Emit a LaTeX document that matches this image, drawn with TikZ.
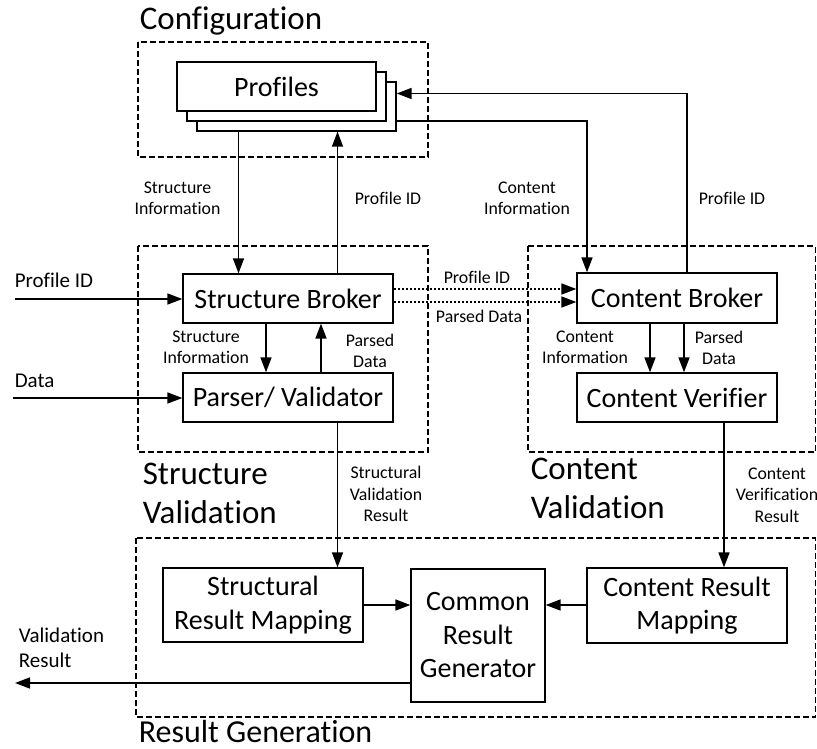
\documentclass[tikz,border=0pt]{standalone}
\usepackage{fontspec}
\setmainfont{Carlito}[Ligatures={NoCommon}]
\usetikzlibrary{arrows.meta,calc}
\begin{document}
\begin{tikzpicture}[x=1pt,y=-1pt,
  line width=1.6pt,
  arr/.style={-{Triangle[length=15pt,width=11pt]}},
  dotline/.style={arr,dash pattern=on 2pt off 2pt},
  group/.style={draw,line width=1.3pt,dash pattern=on 6pt off 3pt},
  blk/.style={draw,fill=white,line width=1.3pt,inner sep=0pt,align=center,
     font=\fontsize{28}{33.5}\selectfont},
  big/.style={inner sep=0pt,align=left,font=\fontsize{33}{38.5}\selectfont},
  lbl/.style={inner sep=0pt,align=center,font=\fontsize{17.8}{21.3}\selectfont},
  inlbl/.style={inner sep=0pt,align=left,font=\fontsize{21}{25}\selectfont}]
\useasboundingbox (0,0) rectangle (817,749);

% group boxes
\draw[group] (138,42) rectangle (428,157);
\draw[group] (138,246) rectangle (428,452);
\draw[group] (528,246) rectangle (815.5,452);
\draw[group] (136,538) rectangle (815.5,717);

% group titles
\node[big,anchor=base west] (tconf) at (139,30) {Configuration};
\node[big,anchor=base west] (tsv) at (142,523) {Structure\\Validation};
\node[big,anchor=base west] (tcv) at (530,518) {Content\\Validation};
\node[big,anchor=base west,font=\fontsize{32}{38.5}\selectfont] (trg) at (138,742) {Result Generation};

% profiles stack
\node[blk,minimum width=199pt,minimum height=49pt] (prof3) at (296.5,106.5) {};
\node[blk,minimum width=199pt,minimum height=49pt] (prof2) at (286.5,96.5) {};
\node[blk,minimum width=199pt,minimum height=49pt] (prof1) at (276.5,86.5) {Profiles};

% blocks
\node[blk,minimum width=210pt,minimum height=49pt] (sb) at (288,298.5) {Structure Broker};
\node[blk,minimum width=210pt,minimum height=49pt] (pv) at (288,397.5) {Parser/ Validator};
\node[blk,minimum width=200pt,minimum height=50pt] (cb) at (677,298) {Content Broker};
\node[blk,minimum width=200pt,minimum height=49pt] (cv) at (677,397.5) {Content Verifier};
\node[blk,minimum width=200pt,minimum height=74pt] (srm) at (263,605) {Structural\\Result Mapping};
\node[blk,minimum width=134pt,minimum height=133pt] (crg) at (478,635.5) {Common\\Result\\Generator};
\node[blk,minimum width=200pt,minimum height=75pt] (crm) at (687,605.5) {Content Result\\Mapping};

% helper coordinates
\coordinate (xsi) at (238.5,0);
\coordinate (xpid) at (337.5,0);
\coordinate (xci) at (587,0);
\coordinate (xcpid) at (687,0);
\coordinate (ytop) at (0,93.5);
\coordinate (ycin) at (0,121);
\coordinate (xsd) at (266,0);
\coordinate (xsu) at (321,0);
\coordinate (xcd1) at (650,0);
\coordinate (xcd2) at (684,0);
\coordinate (xcvo) at (724,0);
\coordinate (ydot1) at (0,289);
\coordinate (ydot2) at (0,302);
\coordinate (ymap) at (0,605);
\coordinate (yout) at (0,683);
\coordinate (inpid) at (15,299);
\coordinate (indata) at (13,398);
\coordinate (outres) at (15,683);

% connectors
\draw[arr] (xsi |- prof3.south) -- (xsi |- sb.north);
\draw[arr] (xpid |- sb.north) -- (xpid |- prof3.south);
\draw[arr] (xcpid |- cb.north) |- (prof3.east |- ytop);
\draw[arr] (prof3.east |- ycin) -| (xci |- cb.north);
\draw[arr] (inpid) -- (sb.west |- inpid);
\draw[arr] (indata) -- (pv.west |- indata);
\draw[arr] (xsd |- sb.south) -- (xsd |- pv.north);
\draw[arr] (xsu |- pv.north) -- (xsu |- sb.south);
\draw[dotline] (sb.east |- ydot1) -- (cb.west |- ydot1);
\draw[dotline] (sb.east |- ydot2) -- (cb.west |- ydot2);
\draw[arr] (xcd1 |- cb.south) -- (xcd1 |- cv.north);
\draw[arr] (xcd2 |- cb.south) -- (xcd2 |- cv.north);
\draw[arr] (xpid |- pv.south) -- (xpid |- srm.north);
\draw[arr] (xcvo |- cv.south) -- (xcvo |- crm.north);
\draw[arr] (srm.east |- ymap) -- (crg.west |- ymap);
\draw[arr] (crm.west |- ymap) -- (crg.east |- ymap);
\draw[arr] (crg.west |- yout) -- (outres);

% connector labels
\node[lbl] (l1) at (177.5,198) {Structure\\Information};
\node[lbl] (l2) at (388,198) {Profile ID};
\node[lbl] (l3) at (527,198) {Content\\Information};
\node[lbl] (l4) at (732,198) {Profile ID};
\node[lbl] (l5) at (206,347) {Structure\\Information};
\node[lbl] (l6) at (370,351) {Parsed\\Data};
\node[lbl] (l7) at (477,277) {Profile ID};
\node[lbl] (l8) at (479,316) {Parsed Data};
\node[lbl] (l9) at (585,347) {Content\\Information};
\node[lbl] (l10) at (719,348) {Parsed\\Data};
\node[lbl] (l11) at (386,494) {Structural\\Validation\\Result};
\node[lbl] (l12) at (777,495) {Content\\Verification\\Result};
\node[inlbl,anchor=base west] (l13) at (14,287) {Profile ID};
\node[inlbl,anchor=base west] (l14) at (14,387) {Data};
\node[inlbl,anchor=base west] (l15) at (18,667) {Validation\\Result};
\end{tikzpicture}
\end{document}
